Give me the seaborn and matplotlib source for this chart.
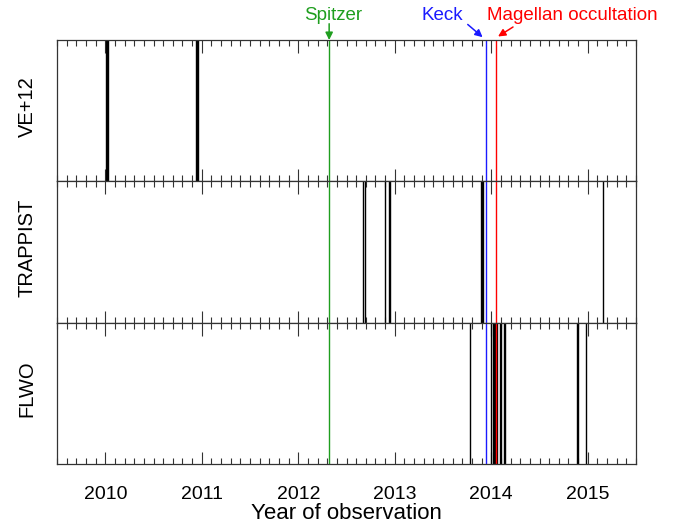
import matplotlib
matplotlib.use("Agg")
import matplotlib.pyplot as plt
import seaborn as sns
from matplotlib.ticker import MultipleLocator, FormatStrFormatter

# observation epochs (decimal year), one list per campaign
ve12_dates = [2010.005, 2010.015, 2010.025, 2010.94, 2010.95, 2010.958]
trappist_dates = [2012.675, 2012.695, 2012.90, 2012.94, 2012.95,
                  2013.89, 2013.905, 2013.915, 2015.155]
flwo_dates = [2013.78, 2013.995, 2014.02, 2014.03, 2014.04, 2014.05, 2014.06,
              2014.095, 2014.105, 2014.13, 2014.14, 2014.885, 2014.895, 2014.985]

panel_names = ["VE+12", "TRAPPIST", "FLWO"]
panel_dates = [ve12_dates, trappist_dates, flwo_dates]

# special events
event_names = ["Spitzer", "Keck", "Magellan occultation"]
event_dates = [2012.32, 2013.943, 2014.053]
event_colors = ["#1f9e1f", "#1a1aff", "#ff0000"]
event_text_x = [2012.36, 2013.49, 2014.84]

sns.set_style("ticks")
plt.rcParams['font.family'] = ['Liberation Sans', 'DejaVu Sans']
plt.rcParams['text.color'] = 'black'
plt.rcParams['axes.labelcolor'] = 'black'
plt.rcParams['xtick.labelcolor'] = 'black'

fig, axes = plt.subplots(3, 1, sharex=True, figsize=(6.81, 5.23), dpi=100)
fig.subplots_adjust(left=0.0837, right=0.934, top=0.9235, bottom=0.1128, hspace=0)

for ax, name, dates in zip(axes, panel_names, panel_dates):
    sns.rugplot(x=dates, height=1, ax=ax, color="black", lw=1.2,
                expand_margins=False)
    for d, c in zip(event_dates, event_colors):
        sns.rugplot(x=[d], height=1, ax=ax, color=c, lw=1.3, expand_margins=False)
    ax.set_xlim(2009.5, 2015.5)
    ax.set_ylim(0, 1)
    ax.set_yticks([])
    ax.set_ylabel(name, fontsize=14.5)
    ax.yaxis.set_label_coords(-0.035, 0.53)
    ax.xaxis.set_major_locator(MultipleLocator(1))
    ax.xaxis.set_minor_locator(MultipleLocator(0.1))
    ax.xaxis.set_major_formatter(FormatStrFormatter('%d'))
    ax.tick_params(axis='x', which='both', direction='in', top=True, bottom=True,
                   color='#333333', width=0.8, labelsize=14, pad=16)
    ax.tick_params(axis='x', which='major', length=9)
    ax.tick_params(axis='x', which='minor', length=4.3)
    for s in ax.spines.values():
        s.set_color('#333333')
        s.set_linewidth(0.9)

axes[2].set_xlabel("Year of observation", fontsize=16, labelpad=0)

top = axes[0]
tr = top.get_xaxis_transform()
# labels above the top panel
for name, x, c in zip(event_names, event_text_x, event_colors):
    top.text(x, 1.14, name, color=c, fontsize=13.5,
             ha='center', va='baseline', transform=tr)

arrow_starts = [(2012.32, 1.115), (2013.756, 1.11), (2014.225, 1.092)]
arrow_ends = [(2012.32, 1.0), (2013.91, 1.02), (2014.07, 1.025)]
for st, en, c in zip(arrow_starts, arrow_ends, event_colors):
    top.annotate("", xy=en, xycoords=tr, xytext=st, textcoords=tr,
                 arrowprops=dict(arrowstyle='-|>', color=c, lw=1.1,
                                 mutation_scale=11, shrinkA=0, shrinkB=0))

fig.savefig("out.png", dpi=100)
